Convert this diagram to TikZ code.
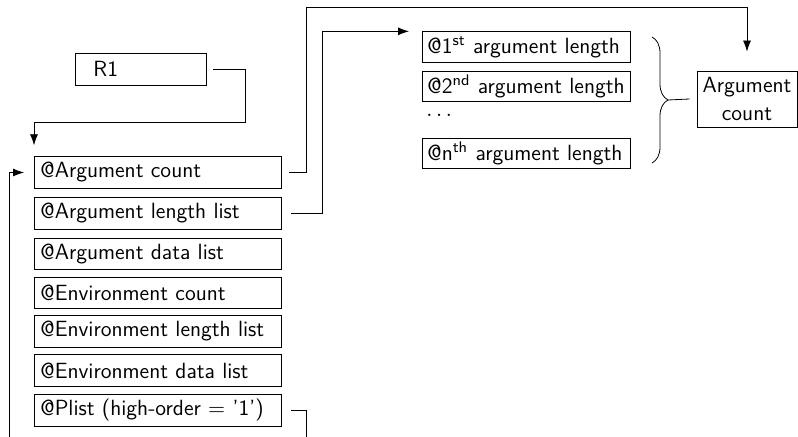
\documentclass[tikz,border=0pt]{standalone}
\usetikzlibrary{decorations.pathreplacing,arrows.meta}
\begin{document}
\sffamily\fontsize{11}{14}\selectfont
\begin{tikzpicture}[x=0.5pt,y=-0.5pt,>={Latex[length=5.5pt,width=4pt]},
    field/.style={draw,anchor=west,text width=117.5pt,inner xsep=3pt,inner ysep=0pt,minimum height=15.75pt,align=left},
    lenbox/.style={draw,anchor=west,text width=99pt,inner xsep=2.5pt,inner ysep=0pt,minimum height=15.25pt,align=left}]
    %\draw[help lines] (0,0) grid[step=50] (798,437);
    \useasboundingbox (0,0) rectangle (798,437);
    \node[field,text width=47.5pt,inner xsep=9pt,minimum height=16pt] (r1) at (75,69) {R1};
    \node[field] (argc) at (34,172.5) {@Argument count};
    \node[field] (arglen) at (34,213.5) {@Argument length list};
    \node[field] (argdata) at (34,254) {@Argument data list};
    \node[field] (envc) at (34,293) {@Environment count};
    \node[field] (envlen) at (34,331.5) {@Environment length list};
    \node[field] (envdata) at (34,370.5) {@Environment data list};
    \node[field] (plist) at (34,410.5) {@Plist (high-order $=$ '1')};
    \node[lenbox] (l1) at (422,47) {@1\textsuperscript{st} argument length};
    \node[lenbox] (l2) at (422,86.5) {@2\textsuperscript{nd} argument length};
    \node[anchor=west,inner sep=0pt] (dots) at (426,115) {$\ldots$};
    \node[lenbox] (ln) at (422,153.5) {@n\textsuperscript{th} argument length};
    \node[draw,align=center,inner sep=1pt,minimum width=50pt,minimum height=28pt] (acount) at (747,99) {Argument\\count};
    \draw[decorate,decoration={brace,amplitude=8pt}] (652,37) -- (652,163);
    \coordinate (bracetip) at (668,100);
    \draw (bracetip) -- ([xshift=-3.5pt]acount.west);
    \draw[->] ([xshift=3pt]r1.east) -| ++(33,53) -| ([yshift=5.5pt]argc.north west);
    \draw[->] ([xshift=3.5pt]argc.east) -- ++(9pt,0) |- ([yshift=31.5pt]acount.north) -- ([yshift=9.5pt]acount.north);
    \draw[->] ([xshift=4.5pt]arglen.east) -- ++(16pt,0) |- ([xshift=-6.5pt]l1.north west);
    \coordinate (loopin) at (9,437);
    \draw[->] (loopin) |- ([xshift=-5pt]argc.west);
    \coordinate (plout) at (306,437);
    \draw ([xshift=4.5pt]plist.east) -| (plout);
\end{tikzpicture}
\end{document}
